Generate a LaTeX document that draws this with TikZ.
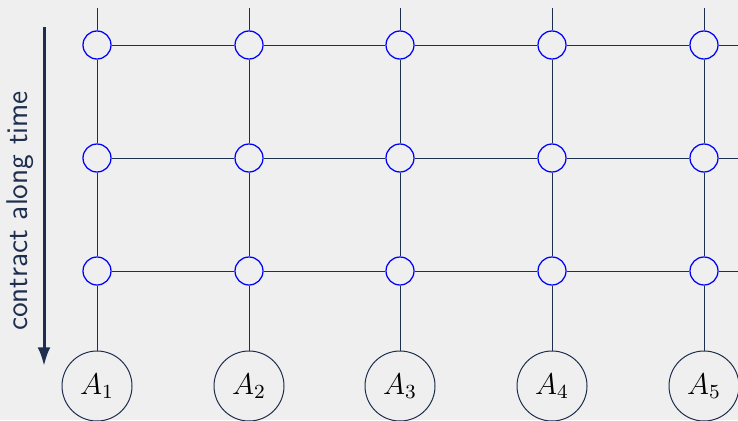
\documentclass[tikz,border=0pt]{standalone}
\usepackage{tikz}
\usetikzlibrary{arrows.meta,positioning,calc}

\definecolor{gridnavy}{HTML}{1E2E4F}
\definecolor{bggray}{HTML}{EFEFEF}

\begin{document}
\begin{tikzpicture}[
  x=0.4pt, y=-0.4pt,
  site/.style={circle, draw=gridnavy, fill=bggray, line width=0.4pt, minimum size=28pt, inner sep=0pt, font=\large},
  tensor/.style={circle, draw=blue, fill=bggray, line width=0.5pt, minimum size=11.2pt, inner sep=0pt},
  bond/.style={draw=gridnavy, line width=0.35pt}
]
\fill[bggray] (0,0) rectangle (738,420);
\useasboundingbox (0,0) rectangle (738,420);

% bottom sites and the three time layers
\foreach \i/\x in {1/97,2/249,3/400,4/552,5/704} {
  \node[site] (A\i) at (\x,386) {$A_\i$};
  \coordinate (top\i) at (\x,8);
  \foreach \j/\y in {1/45,2/158,3/271}
    \node[tensor] (t\i\j) at (\x,\y) {};
  \draw[bond] (top\i) -- (t\i1) -- (t\i2) -- (t\i3) -- (A\i);
}

% horizontal bonds, running off to the right
\foreach \j/\y in {1/45,2/158,3/271} {
  \coordinate (end\j) at (738,\y);
  \draw[bond] (t1\j) -- (t2\j) -- (t3\j) -- (t4\j) -- (t5\j) -- (end\j);
}

% time arrow
\coordinate (arrtop) at (44,27);
\coordinate (arrbot) at (44,366);
\draw[-{Latex[length=7.5pt,width=5.2pt]}, line width=1.2pt, gridnavy] (arrtop) -- (arrbot);
\node[rotate=90, font=\sffamily\large, text=gridnavy] (lbl) at (20,211) {contract along time};

\end{tikzpicture}
\end{document}
